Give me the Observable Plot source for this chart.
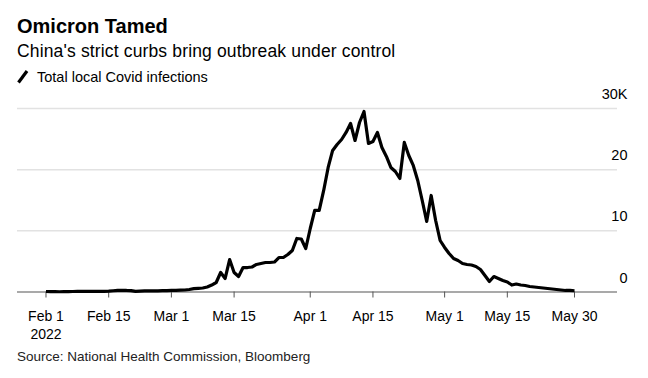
<!DOCTYPE html>
<html>
<head>
<meta charset="utf-8">
<script src="https://cdn.jsdelivr.net/npm/d3@7"></script>
<script src="https://cdn.jsdelivr.net/npm/@observablehq/plot@0.6"></script>
<style>
  html, body { margin: 0; padding: 0; background: #fff; }
  body { width: 648px; height: 378px; position: relative; overflow: hidden;
         font-family: "Liberation Sans", Arial, sans-serif; color: #000; }
  .t { position: absolute; white-space: nowrap; line-height: 1; }
  #title { left: 17px; top: 16.4px; font-size: 20px; font-weight: bold; }
  #subtitle { left: 17px; top: 42.5px; font-size: 17.5px; letter-spacing: 0.15px; }
  #legend { left: 17px; top: 69.7px; font-size: 14.5px; }
  #legend svg { position: absolute; left: 0; top: -1px; }
  #legend span { margin-left: 20px; }
  #source { left: 17px; top: 349.6px; font-size: 13.5px; color: #222; }
  #chart { position: absolute; left: 0; top: 88px; }
</style>
</head>
<body>
<div id="title" class="t">Omicron Tamed</div>
<div id="subtitle" class="t">China's strict curbs bring outbreak under control</div>
<div id="legend" class="t"><svg width="14" height="16"><line x1="1.5" y1="13.5" x2="10" y2="2" stroke="#000" stroke-width="3.2"/></svg><span>Total local Covid infections</span></div>
<div id="chart"></div>
<div id="source" class="t">Source: National Health Commission, Bloomberg</div>
<script>
const startDate = "2022-02-01";
const infections = [
  80, 60, 50, 40, 50, 60, 80, 90, 100, 110, 100, 90, 100, 110,
  140, 200, 270, 290, 250, 230, 100, 150, 170, 180, 190, 200, 210, 230,
  250, 280, 310, 330, 410, 540, 600, 650, 820, 1140, 1550, 3190, 2210, 5310,
  3190, 2530, 4000, 4000, 4090, 4500, 4660, 4820, 4820, 4900, 5640, 5640, 6130, 6790,
  8750, 8670, 7110, 10380, 13330, 13330, 16600, 20360, 23140, 24120, 24930, 26080,
  27550, 24770, 27710, 29510, 24280, 24610, 26080, 23630, 22160, 20360, 19700, 18560,
  24450, 22320, 20690, 18230, 14960, 11530, 15780, 11690, 8420, 7280, 6300, 5480,
  5150, 4660, 4500, 4410, 4170, 3680, 2700, 1720, 2530, 2210, 1880, 1640,
  1140, 1310, 1140, 1060, 900, 820, 740, 650, 570, 490, 410, 330, 250, 250, 200
];
const tickDates = ["2022-02-01","2022-02-15","2022-03-01","2022-03-15","2022-04-01","2022-04-15","2022-05-01","2022-05-15","2022-05-30"];
const tickLabels = ["Feb 1\n2022","Feb 15","Mar 1","Mar 15","Apr 1","Apr 15","May 1","May 15","May 30"];
const yTicks = [0, 10000, 20000, 30000];
const yTickLabels = ["0", "10", "20", "30K"];

const start = new Date(startDate + "T00:00:00Z");
const data = infections.map((v, i) => ({date: d3.utcDay.offset(start, i), value: v}));
const ticks = tickDates.map(s => new Date(s + "T00:00:00Z"));
const tickLabelOf = new Map(ticks.map((t, i) => [+t, tickLabels[i]]));
const yLabelOf = new Map(yTicks.map((t, i) => [t, yTickLabels[i]]));
const DAY = 864e5;
const xDomain = [new Date(+start - 6.36 * DAY), new Date(+start + 127.6 * DAY)];

const chart = Plot.plot({
  width: 648,
  height: 260,
  marginLeft: 17,
  marginRight: 31,
  marginTop: 20,
  marginBottom: 56.5,
  style: {fontFamily: "'Liberation Sans', Arial, sans-serif", fontSize: "14px", color: "#000", background: "transparent", overflow: "visible"},
  x: {type: "utc", domain: xDomain, label: null},
  y: {domain: [0, 30000], label: null},
  marks: [
    Plot.ruleY(yTicks.filter(d => d > 0), {stroke: "#e2e2e2", strokeWidth: 1.5}),
    Plot.ruleY([0], {stroke: "#8c8c8c", strokeWidth: 1.5}),
    Plot.axisX({ticks: ticks, tickFormat: d => tickLabelOf.get(+d), tickSize: 6, tickPadding: 10.5,
                stroke: "#555", fill: "#000", lineHeight: 1.28, label: null, fontSize: 14}),
    Plot.axisY({anchor: "right", ticks: yTicks, tickFormat: d => yLabelOf.get(d), tickSize: 0,
                tickPadding: 10, textAnchor: "end", dy: -14, fill: "#000", label: null, fontSize: 14.5}),
    Plot.line(data, {x: "date", y: "value", stroke: "#000", strokeWidth: 3.2, strokeLinejoin: "round", strokeLinecap: "butt"})
  ]
});
document.getElementById("chart").appendChild(chart);
</script>
</body>
</html>
